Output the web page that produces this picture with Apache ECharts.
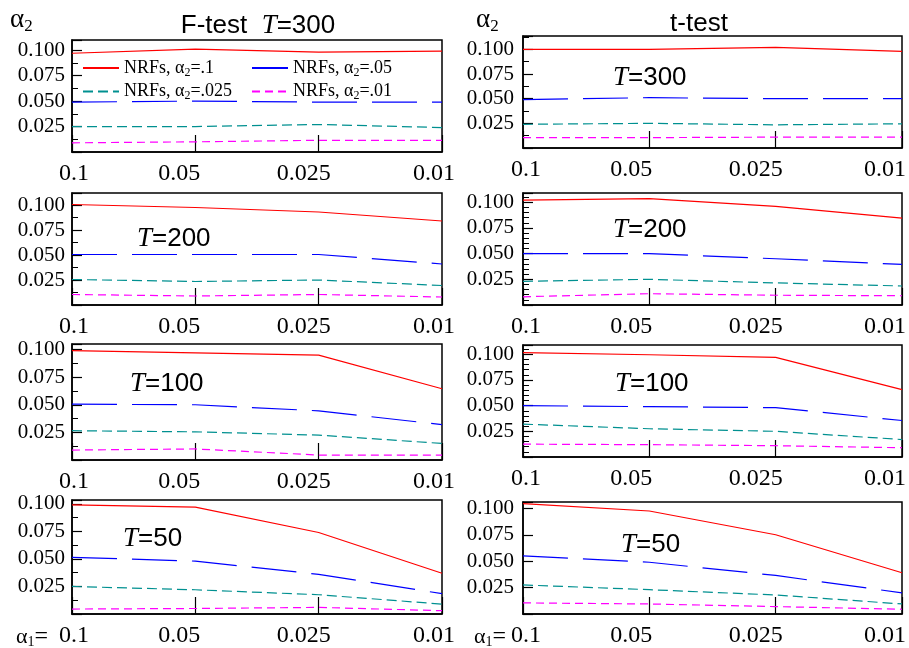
<!DOCTYPE html>
<html>
<head>
<meta charset="utf-8">
<script src="https://cdn.jsdelivr.net/npm/echarts@6/dist/echarts.min.js"></script>
<style>
  html, body { margin: 0; padding: 0; background: #fff; }
  #chart { width: 909px; height: 648px; }
</style>
</head>
<body>
<div id="chart"></div>
<script>
// alpha1 levels on the x axis
var alpha1Labels = ['0.1', '0.05', '0.025', '0.01']
var seriesNames = ['NRFs, α2=.1', 'NRFs, α2=.05', 'NRFs, α2=.025', 'NRFs, α2=.01']

// rejection rates, rows: alpha2 = .1, .05, .025, .01
var fTest300 = [
  [0.097, 0.101, 0.098, 0.099],
  [0.049, 0.050, 0.049, 0.049],
  [0.025, 0.025, 0.027, 0.024],
  [0.009, 0.010, 0.0115, 0.0115]
]
var tTest300 = [
  [0.100, 0.100, 0.102, 0.098],
  [0.049, 0.051, 0.050, 0.050],
  [0.024, 0.025, 0.0235, 0.0245],
  [0.0105, 0.0105, 0.011, 0.011]
]
var fTest200 = [
  [0.1005, 0.0975, 0.093, 0.084],
  [0.0505, 0.0505, 0.0505, 0.041],
  [0.0255, 0.0235, 0.025, 0.0195],
  [0.0105, 0.009, 0.0105, 0.008]
]
var tTest200 = [
  [0.102, 0.1035, 0.096, 0.0845],
  [0.050, 0.050, 0.045, 0.0395],
  [0.023, 0.025, 0.0215, 0.0185],
  [0.008, 0.011, 0.0095, 0.009]
]
var fTest100 = [
  [0.099, 0.097, 0.095, 0.0645],
  [0.0505, 0.050, 0.0445, 0.032],
  [0.0265, 0.0255, 0.0225, 0.015],
  [0.009, 0.010, 0.0045, 0.0045]
]
var tTest100 = [
  [0.1015, 0.0995, 0.097, 0.0655],
  [0.050, 0.049, 0.048, 0.0355],
  [0.032, 0.0275, 0.025, 0.017],
  [0.0125, 0.012, 0.011, 0.009]
]
var fTest50 = [
  [0.099, 0.097, 0.074, 0.037],
  [0.0515, 0.048, 0.036, 0.0185],
  [0.025, 0.022, 0.0175, 0.009],
  [0.0045, 0.005, 0.006, 0.003]
]
var tTest50 = [
  [0.1045, 0.0975, 0.075, 0.039],
  [0.055, 0.049, 0.0365, 0.020],
  [0.0275, 0.023, 0.018, 0.0095],
  [0.0105, 0.0095, 0.007, 0.0045]
]

var lineStyles = [
  { color: '#ff0000', type: 'solid' },
  { color: '#0000ff', type: [45, 15] },
  { color: '#009090', type: [10, 5] },
  { color: '#ff00ff', type: [8, 5] }
]

// layout of the 8 panels
var panels = [
  { data: fTest300, left: 72, top: 40, width: 370, height: 112, max: 0.110, minor: 2, col: 0 },
  { data: tTest300, left: 523, top: 36, width: 379, height: 112, max: 0.1135, minor: 2, col: 1 },
  { data: fTest200, left: 72, top: 193, width: 370, height: 112, max: 0.112, minor: 2, col: 0 },
  { data: tTest200, left: 523, top: 193, width: 379, height: 112, max: 0.109, minor: 5, col: 1 },
  { data: fTest100, left: 72, top: 344, width: 370, height: 116, max: 0.105, minor: 2, col: 0 },
  { data: tTest100, left: 523, top: 345, width: 379, height: 112, max: 0.109, minor: 5, col: 1 },
  { data: fTest50, left: 72, top: 500, width: 370, height: 114, max: 0.1035, minor: 2, col: 0 },
  { data: tTest50, left: 523, top: 502, width: 379, height: 113, max: 0.106, minor: 1, col: 1 }
]

// label nudges so x labels sit like in the original
var labelPads = [
  [[0, 0, 0, 4], [0, 32, 0, 0], [0, 30, 0, 0], [0, 16, 0, 0]],
  [[0, 0, 0, 6], [0, 36, 0, 0], [0, 40, 0, 0], [0, 34, 0, 0]]
]

var serif = '"Liberation Serif", "DejaVu Serif", serif'
var sans = '"Liberation Sans", Arial, sans-serif'

var grids = []
var xAxes = []
var yAxes = []
var series = []

panels.forEach(function (p, i) {
  grids.push({
    left: p.left, top: p.top, width: p.width, height: p.height,
    show: true, borderColor: '#000', borderWidth: 1.5, containLabel: false
  })
  xAxes.push({
    gridIndex: i,
    type: 'category',
    boundaryGap: false,
    data: alpha1Labels.map(function (v, k) {
      return { value: v, textStyle: { padding: labelPads[p.col][k] } }
    }),
    axisLine: { lineStyle: { color: '#000', width: 1.5 } },
    axisTick: { inside: true, length: 17, lineStyle: { color: '#000', width: 1.2 } },
    axisLabel: { interval: 0, margin: 10, color: '#000', fontFamily: serif, fontSize: 24 },
    splitLine: { show: false }
  })
  yAxes.push({
    gridIndex: i,
    type: 'value',
    min: 0,
    max: p.max,
    interval: 0.025,
    axisLine: { show: true, lineStyle: { color: '#000', width: 1.5 } },
    axisTick: { show: true, inside: true, length: 10, lineStyle: { color: '#000', width: 1.2 } },
    minorTick: { show: p.minor > 1, splitNumber: p.minor, length: 6, lineStyle: { color: '#000', width: 1 } },
    axisLabel: {
      margin: p.col === 0 ? 7 : 9,
      color: '#000',
      fontFamily: serif,
      fontSize: 21,
      formatter: function (v) {
        return (v > 0.001 && v < 0.1001) ? v.toFixed(3) : ''
      }
    },
    splitLine: { show: false }
  })
  p.data.forEach(function (vals, s) {
    series.push({
      name: seriesNames[s],
      type: 'line',
      xAxisIndex: i,
      yAxisIndex: i,
      data: vals,
      symbol: 'none',
      silent: true,
      lineStyle: { color: lineStyles[s].color, type: lineStyles[s].type, width: 1.2 },
      itemStyle: { color: lineStyles[s].color }
    })
  })
})

function txt (x, y, text, rich, align) {
  return {
    type: 'text',
    x: x,
    y: y,
    style: {
      text: text,
      rich: rich,
      align: align || 'left',
      verticalAlign: 'middle',
      fill: '#000'
    }
  }
}

var tRich = {
  i: { fontFamily: serif, fontStyle: 'italic', fontSize: 27, fill: '#000' },
  s: { fontFamily: sans, fontSize: 26, fill: '#000' }
}
var alphaRich = {
  a: { fontFamily: serif, fontSize: 27, fill: '#000' },
  s: { fontFamily: serif, fontSize: 17, fill: '#000', padding: [14, 0, 0, 0] }
}
var alpha1Rich = {
  a: { fontFamily: serif, fontSize: 22, fill: '#000' },
  s: { fontFamily: serif, fontSize: 14, fill: '#000', padding: [10, 0, 0, 0] },
  e: { fontFamily: serif, fontSize: 24, fill: '#000' }
}

var graphics = [
  txt(10, 20, '{a|α}{s|2}', alphaRich),
  txt(476, 20, '{a|α}{s|2}', alphaRich),
  txt(258, 26, '{s|F-test  }{i|T}{s|=300}', tRich, 'center'),
  txt(699, 24, '{s|t-test}', tRich, 'center'),
  txt(613, 78, '{i|T}{s|=300}', tRich),
  txt(137, 239, '{i|T}{s|=200}', tRich),
  txt(613, 230, '{i|T}{s|=200}', tRich),
  txt(130, 384, '{i|T}{s|=100}', tRich),
  txt(615, 384, '{i|T}{s|=100}', tRich),
  txt(123, 539, '{i|T}{s|=50}', tRich),
  txt(621, 545, '{i|T}{s|=50}', tRich),
  txt(16, 637, '{a|α}{s|1}{e|=}', alpha1Rich),
  txt(474, 637, '{a|α}{s|1}{e|=}', alpha1Rich)
]

var chart = echarts.init(document.getElementById('chart'))
chart.setOption({
  animation: false,
  backgroundColor: '#fff',
  grid: grids,
  xAxis: xAxes,
  yAxis: yAxes,
  legend: {
    data: seriesNames,
    left: 82,
    top: 58,
    width: 345,
    itemWidth: 36,
    itemHeight: 10,
    itemGap: 3,
    padding: 0,
    itemStyle: { opacity: 0 },
    textStyle: {
      fontFamily: serif,
      fontSize: 18,
      color: '#000',
      width: 124,
      lineHeight: 20,
      rich: {
        sub: { fontFamily: serif, fontSize: 12, color: '#000', padding: [9, 0, 0, 0] }
      }
    },
    formatter: function (name) {
      return name.replace('α2', 'α{sub|2}')
    }
  },
  graphic: graphics,
  series: series
})
</script>
</body>
</html>
